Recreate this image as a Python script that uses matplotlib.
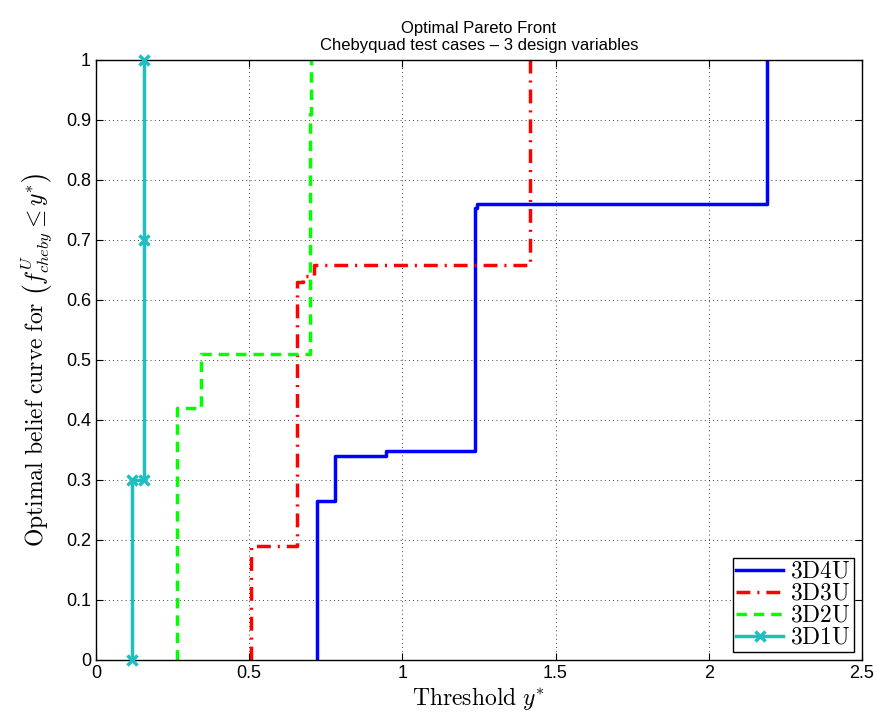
import matplotlib
matplotlib.use("Agg")
import matplotlib.pyplot as plt

plt.rcParams['mathtext.fontset'] = 'cm'
plt.rcParams['font.family'] = ['Liberation Sans', 'DejaVu Sans']

# data: step curves (x, y vertices)
d4_x = [0.72, 0.72, 0.78, 0.78, 0.946, 0.946, 1.236, 1.236, 1.245, 1.245, 2.19, 2.19]
d4_y = [0.0, 0.265, 0.265, 0.34, 0.34, 0.348, 0.348, 0.753, 0.753, 0.76, 0.76, 1.0]
d3_x = [0.506, 0.506, 0.656, 0.656, 0.675, 0.675, 0.71, 0.71, 1.418, 1.418]
d3_y = [0.0, 0.19, 0.19, 0.63, 0.63, 0.64, 0.64, 0.658, 0.658, 1.0]
d2_x = [0.264, 0.264, 0.343, 0.343, 0.698, 0.698, 0.702, 0.702]
d2_y = [0.0, 0.42, 0.42, 0.51, 0.51, 0.91, 0.91, 1.0]
d1_x = [0.118, 0.118, 0.157, 0.157, 0.157]
d1_y = [0.0, 0.3, 0.3, 0.7, 1.0]
labels = ['3D4U', '3D3U', '3D2U', '3D1U']

fig = plt.figure(figsize=(8.78, 7.22), dpi=100)
ax = fig.add_axes([0.1093, 0.0859, 0.8724, 0.831])

ax.plot(d4_x, d4_y, color='#0000ff', lw=2.5, ls='-', label=labels[0])
ax.plot(d3_x, d3_y, color='#ff0000', lw=2.5, ls=(0, (4, 2, 0.6, 2)), label=labels[1])
ax.plot(d2_x, d2_y, color='#00ff00', lw=2.5, ls=(0, (3, 2)), label=labels[2])
ax.plot(d1_x, d1_y, color='#1fbfbf', lw=2.5, ls='-', marker='x', ms=7, mew=2.5,
        label=labels[3], clip_on=False, zorder=5)

ax.set_xlim(0, 2.5)
ax.set_ylim(0, 1)
ax.set_xticks([0, 0.5, 1, 1.5, 2, 2.5])
ax.set_xticklabels(['0', '0.5', '1', '1.5', '2', '2.5'])
ax.set_yticks([i / 10 for i in range(11)])
ax.set_yticklabels(['0', '0.1', '0.2', '0.3', '0.4', '0.5', '0.6', '0.7', '0.8', '0.9', '1'])
ax.tick_params(direction='in', top=True, right=True, labelsize=13, length=5)
ax.grid(True, color='black', ls=(0, (1, 4)), lw=0.6)
for s in ax.spines.values():
    s.set_linewidth(1.0)

ax.set_xlabel(r'$\mathrm{Threshold}\ y^{*}$', fontsize=17, labelpad=2)
ax.set_ylabel(r'$\mathrm{Optimal\ belief\ curve\ for}\ \left(f^{U}_{cheby} \leq y^{*}\right)$', fontsize=17, labelpad=8)
ax.set_title('Optimal Pareto Front\nChebyquad test cases \u2013 3 design variables', fontsize=12, pad=7)

leg = ax.legend(loc='lower right', prop={'size': 17}, fancybox=False,
                edgecolor='black', framealpha=1, borderpad=0.12, labelspacing=0.0,
                handlelength=2.0, handletextpad=0.3, borderaxespad=0.35)
leg.get_frame().set_linewidth(1.0)
for t in leg.get_texts():
    t.set_math_fontfamily('cm')
    t.set_text(r'$\mathrm{' + t.get_text() + '}$')

fig.savefig('out.png', dpi=100)
